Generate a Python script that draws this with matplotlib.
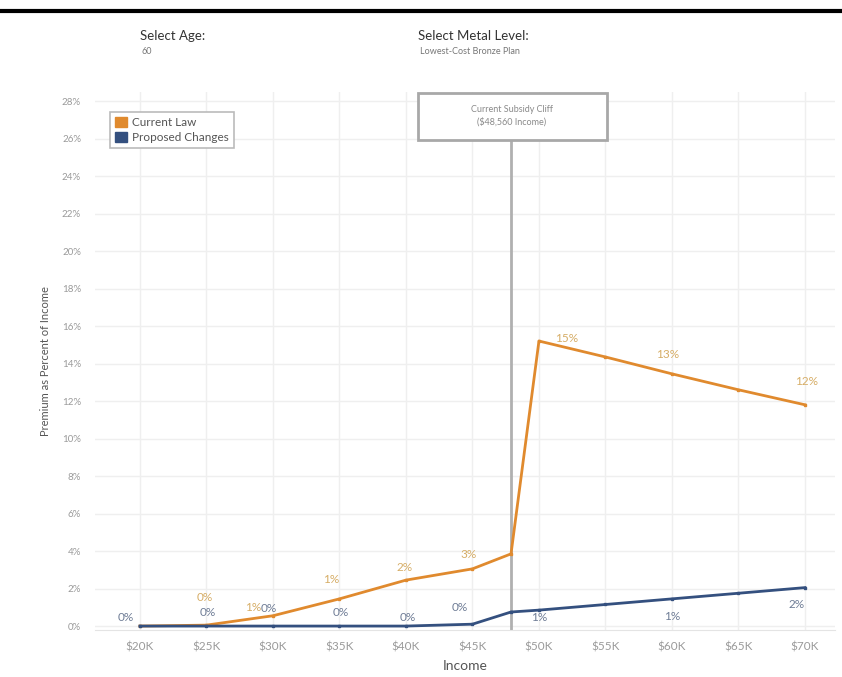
import matplotlib
matplotlib.use("Agg")
import matplotlib.pyplot as plt
from matplotlib.patches import Patch, Rectangle

plt.rcParams["font.family"] = ["Lato", "DejaVu Sans"]

# ---- data --------------------------------------------------------------------
income_k = [20, 25, 30, 35, 40, 45, 47.9, 50, 55, 60, 65, 70]
current_law = [0.0, 0.05, 0.55, 1.45, 2.45, 3.05, 3.85, 15.2, 14.35, 13.45, 12.6, 11.8]
proposed = [0.0, 0.0, 0.0, 0.0, 0.0, 0.1, 0.75, 0.85, 1.15, 1.45, 1.75, 2.05]

x_ticks = [20, 25, 30, 35, 40, 45, 50, 55, 60, 65, 70]
y_ticks = list(range(0, 30, 2))
cliff_income_k = 47.9

# which points carry a label, and where the label sits (offset in points)
cur_labels = {1: (-1, 20), 2: (-14, 6), 3: (-6, 14), 4: (-1, 9), 5: (-3, 10),
              7: (20, 2), 9: (-3, 14), 11: (1, 17)}
prop_labels = {0: (-10, 6), 1: (1, 10), 2: (-3, 13), 3: (1, 10), 4: (1, 6),
               5: (-9, 12), 7: (0, -5), 9: (0, -13), 11: (-6, -12)}

ORANGE = "#e08a2e"
BLUE = "#34507f"
ORANGE_TXT = "#d6ad66"
BLUE_TXT = "#6f7d96"
GREY_TXT = "#9a9a9a"

fig = plt.figure(figsize=(8.42, 6.77), dpi=100)
ax = fig.add_axes([95 / 842, 1 - 630 / 677, 740 / 842, 538 / 677])

ax.plot(income_k, current_law, color=ORANGE, lw=2, marker="s", ms=2, zorder=3)
ax.plot(income_k, proposed, color=BLUE, lw=2, marker="s", ms=2, zorder=3)

for i, (dx, dy) in cur_labels.items():
    ax.annotate(f"{current_law[i]:.0f}%", (income_k[i], current_law[i]),
                xytext=(dx, dy), textcoords="offset points", ha="center",
                va="center", fontsize=8.5, color=ORANGE_TXT, zorder=4)
for i, (dx, dy) in prop_labels.items():
    ax.annotate(f"{proposed[i]:.0f}%", (income_k[i], proposed[i]),
                xytext=(dx, dy), textcoords="offset points", ha="center",
                va="center", fontsize=8.5, color=BLUE_TXT, zorder=4)

# subsidy cliff marker
ax.axvline(cliff_income_k, ymax=(630 - 140) / 538, color="#b0b0b0", lw=2, zorder=2)

ax.set_xlim(16.62, 72.26)
ax.set_ylim(-0.21, 28.48)
ax.set_xticks(x_ticks)
ax.set_xticklabels([f"${v}K" for v in x_ticks])
ax.set_yticks(y_ticks)
ax.set_yticklabels([f"{v}%" for v in y_ticks])
ax.tick_params(axis="x", length=0, pad=8, labelsize=8.5, colors=GREY_TXT)
ax.tick_params(axis="y", length=0, pad=10, labelsize=7, colors=GREY_TXT)
ax.grid(True, color="#efefef", lw=1)
ax.set_axisbelow(True)
for s in ["top", "right", "left"]:
    ax.spines[s].set_visible(False)
ax.spines["bottom"].set_color("#e4e4e4")

ax.set_xlabel("Income", fontsize=10, color="#555555", labelpad=6)
ax.set_ylabel("Premium as Percent of Income", fontsize=8, color="#555555", labelpad=8)

leg = ax.legend(handles=[Patch(color=ORANGE, label="Current Law"),
                         Patch(color=BLUE, label="Proposed Changes")],
                loc="upper left", bbox_to_anchor=(110 / 842, 1 - 112 / 677),
                bbox_transform=fig.transFigure, borderaxespad=0, fontsize=8.5,
                handlelength=1.0, handleheight=1.0, handletextpad=0.5,
                labelspacing=0.3, fancybox=False, edgecolor="#bbbbbb",
                framealpha=1, labelcolor="#555555")
leg.get_frame().set_linewidth(1.2)

# annotation box for the cliff
fig.patches.append(Rectangle((418 / 842, 1 - 140 / 677), 189 / 842, 47 / 677,
                             transform=fig.transFigure, facecolor="white",
                             edgecolor="#a8a8a8", lw=2, zorder=5))
fig.text(512 / 842, 1 - 116 / 677, "Current Subsidy Cliff\n($48,560 Income)",
         ha="center", va="center", fontsize=6.5, color="#8a8a8a",
         linespacing=1.5, zorder=6)

# header controls
fig.add_artist(plt.Line2D([0, 1], [1 - 11 / 677, 1 - 11 / 677],
                          color="black", lw=3, transform=fig.transFigure))
fig.text(140 / 842, 1 - 36 / 677, "Select Age:", fontsize=9.5, color="#333333",
         va="center")
fig.text(142 / 842, 1 - 51 / 677, "60", fontsize=6.5, color="#777777", va="center")
fig.text(418 / 842, 1 - 36 / 677, "Select Metal Level:", fontsize=9.5,
         color="#333333", va="center")
fig.text(420 / 842, 1 - 52 / 677, "Lowest-Cost Bronze Plan", fontsize=6.5,
         color="#777777", va="center")

fig.savefig("out.png", dpi=100)
